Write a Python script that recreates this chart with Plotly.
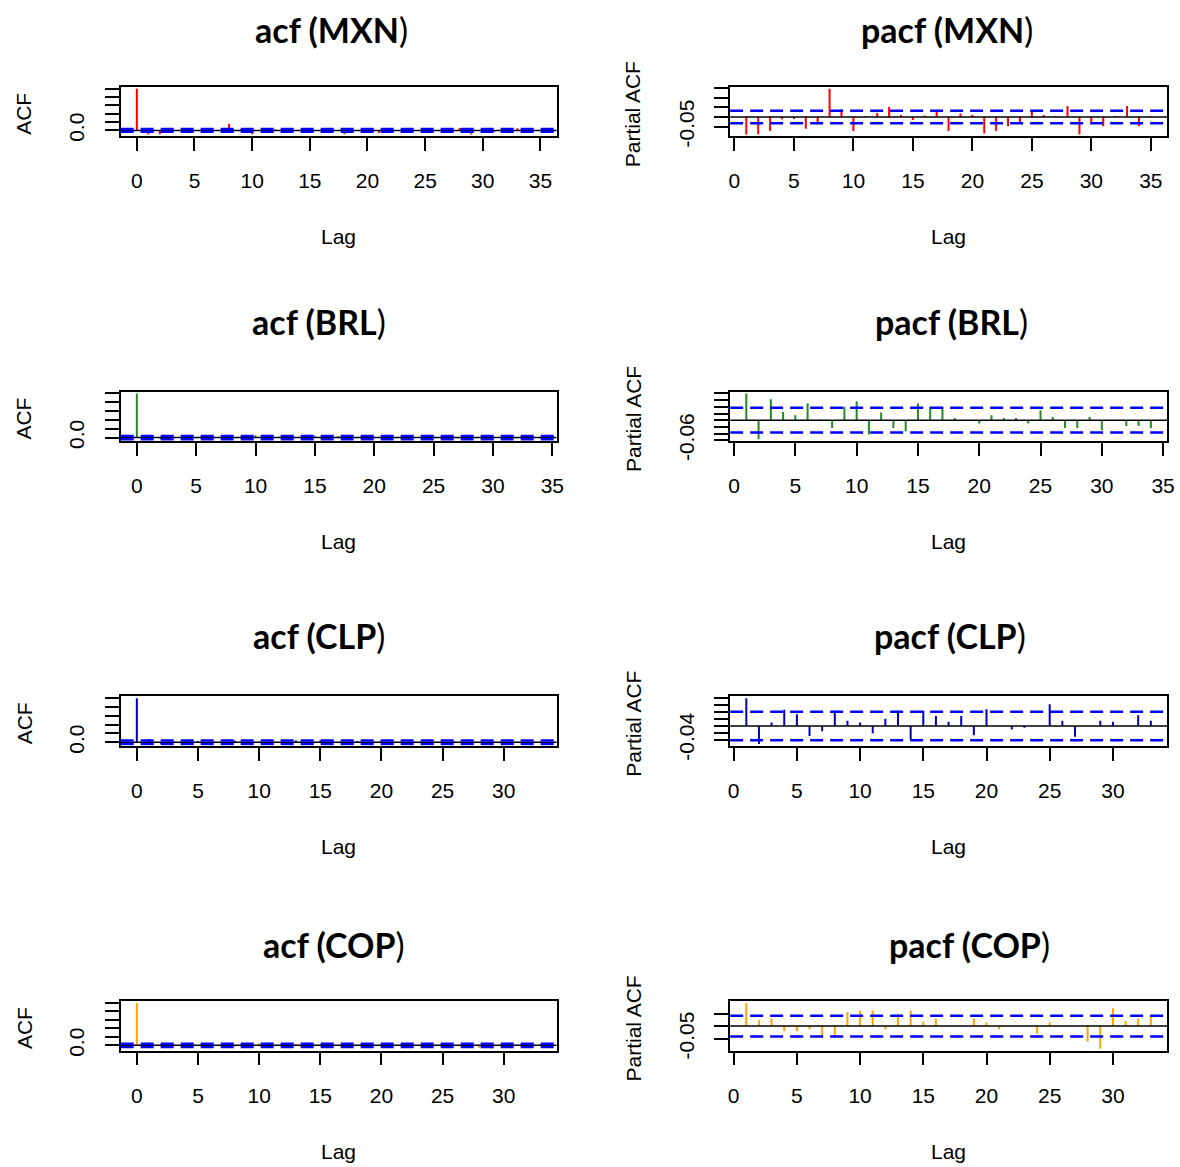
import plotly.graph_objects as go

# layout grid is expressed in a 1180 x 1167 pixel frame
REF_W, REF_H = 1180, 1167
FIG_W, FIG_H = 1187, 1186

# ---- data -------------------------------------------------------------
series = ["MXN", "BRL", "CLP", "COP"]
stem_colors = ["#FF0000", "#228B22", "#0000B4", "#FFA500"]

# sample autocorrelations, lags 0..L
acf_MXN = [1.0, -0.10, -0.09, -0.04, -0.01, 0.01, -0.03, 0.00, 0.16, 0.02,
           -0.09, 0.01, 0.02, 0.06, 0.01, -0.01, 0.01, 0.03, -0.09, 0.01,
           0.01, -0.06, -0.03, -0.02, -0.01, 0.05, 0.01, 0.00, 0.06, -0.10,
           -0.02, -0.03, 0.00, 0.05, -0.02, 0.00]
acf_BRL = [1.0, 0.06, -0.04, 0.05, 0.02, 0.01, 0.04, 0.00, -0.02, 0.03,
           0.05, -0.03, 0.02, -0.02, -0.03, 0.04, 0.04, 0.03, 0.01, 0.00,
           -0.01, 0.01, 0.01, 0.01, -0.01, 0.03, 0.01, -0.02, -0.02, 0.01,
           -0.03, 0.00, -0.02, -0.02, -0.02]
acf_CLP = [1.0, 0.07, -0.04, 0.01, 0.04, 0.03, -0.03, -0.01, 0.04, 0.01,
           0.01, -0.02, 0.02, 0.04, -0.04, 0.04, 0.03, 0.01, 0.03, -0.03,
           0.04, 0.00, -0.01, 0.00, 0.00, 0.06, 0.01, -0.03, 0.00, 0.01,
           0.01, 0.00, 0.03, 0.01]
acf_COP = [1.0, 0.08, 0.03, 0.03, -0.02, -0.02, -0.01, -0.04, -0.03, 0.04,
           0.05, 0.06, -0.01, 0.04, 0.06, 0.02, 0.03, 0.00, 0.00, 0.03,
           0.02, -0.01, 0.00, 0.00, -0.02, 0.01, 0.00, 0.00, -0.06, -0.08,
           0.06, 0.02, 0.03, 0.04]

# partial autocorrelations, lags 1..L
pacf_MXN = [-0.090, -0.088, -0.072, -0.012, -0.010, -0.060, -0.030, 0.145, 0.038, -0.072,
            0.005, 0.021, 0.052, 0.010, -0.015, 0.008, 0.031, -0.072, 0.018, 0.012,
            -0.084, -0.072, -0.048, -0.028, 0.026, 0.010, 0.005, 0.056, -0.090, -0.030,
            -0.047, 0.005, 0.056, -0.048, 0.003]
pacf_BRL = [0.080, -0.057, 0.063, 0.025, 0.015, 0.050, 0.002, -0.023, 0.040, 0.057,
            -0.043, 0.023, -0.023, -0.033, 0.050, 0.040, 0.040, 0.007, 0.001, -0.010,
            0.015, 0.007, 0.007, -0.010, 0.030, 0.010, -0.023, -0.023, 0.010, -0.030,
            0.001, -0.017, -0.017, -0.023]
pacf_CLP = [0.080, -0.052, 0.010, 0.047, 0.034, -0.029, -0.015, 0.044, 0.015, 0.010,
            -0.021, 0.021, 0.044, -0.039, 0.044, 0.029, 0.012, 0.029, -0.027, 0.048,
            0.001, -0.010, -0.005, 0.001, 0.063, 0.015, -0.031, 0.001, 0.015, 0.012,
            0.001, 0.031, 0.015]
pacf_COP = [0.092, 0.023, 0.030, -0.020, -0.020, -0.012, -0.046, -0.038, 0.056, 0.062,
            0.062, -0.012, 0.049, 0.062, 0.017, 0.030, 0.002, 0.001, 0.030, 0.014,
            -0.012, 0.001, 0.000, -0.029, 0.014, 0.001, 0.000, -0.061, -0.090, 0.071,
            0.020, 0.030, 0.040]

# white-noise confidence bounds (+/-)
conf_limits = [0.032, 0.037, 0.041, 0.041]

acf_values = [acf_MXN, acf_BRL, acf_CLP, acf_COP]
pacf_values = [pacf_MXN, pacf_BRL, pacf_CLP, pacf_COP]

lag_ticks = [[0, 5, 10, 15, 20, 25, 30, 35],
             [0, 5, 10, 15, 20, 25, 30, 35],
             [0, 5, 10, 15, 20, 25, 30],
             [0, 5, 10, 15, 20, 25, 30]]
acf_yticks = [0.0, 0.2, 0.4, 0.6, 0.8, 1.0]
acf_ylabels = ["0.0", "", "", "", "", ""]
pacf_yticks = [[-0.05, 0.0, 0.05, 0.10, 0.15],
               [-0.06, -0.04, -0.02, 0.0, 0.02, 0.04, 0.06, 0.08],
               [-0.04, -0.02, 0.0, 0.02, 0.04, 0.06, 0.08],
               [-0.05, 0.0, 0.05]]
pacf_ylabels = [["-0.05", "", "", "", ""],
                ["-0.06", "", "", "", "", "", "", ""],
                ["-0.04", "", "", "", "", "", ""],
                ["-0.05", "", ""]]

# ---- geometry (pixels in the 1180 x 1167 frame) ------------------------
col_x = [(119, 556), (730, 1168)]
row_top = [87, 392, 697, 1002]
box_h = 49.5
title_pos = [[(330, 30), (947, 30)],
             [(318, 322), (952, 322)],
             [(318, 636), (950, 636)],
             [(333, 945), (970, 945)]]

TICK_FONT = dict(family="Liberation Sans, Arial, sans-serif", size=21, color="#000")
TITLE_FONT = dict(family="Lato, sans-serif", size=34, color="#000")


def r_range(lo, hi):
    pad = 0.04 * (hi - lo)
    return [lo - pad, hi + pad]


def px_x(p):
    return p / REF_W


def px_y(p):
    return 1 - p / REF_H


fig = go.Figure()
shapes = []
annotations = []
layout_axes = {}

panel = 0
for r, name in enumerate(series):
    clim = conf_limits[r]
    for c in range(2):
        panel += 1
        xa = "x" if panel == 1 else f"x{panel}"
        ya = "y" if panel == 1 else f"y{panel}"
        if c == 0:
            vals = acf_values[r]
            lags = list(range(len(vals)))
            yticks, ylabels = acf_yticks, acf_ylabels
            ytitle = "ACF"
            ttl = f"<b>acf ({name}</b>)"
        else:
            vals = pacf_values[r]
            lags = list(range(1, len(vals) + 1))
            yticks, ylabels = pacf_yticks[r], pacf_ylabels[r]
            ytitle = "Partial ACF"
            ttl = f"<b>pacf ({name}</b>)"
        ylo = min(min(vals), -clim)
        yhi = max(max(vals), clim)

        # vertical stems from zero to each coefficient
        sx, sy = [], []
        for k, v in zip(lags, vals):
            sx += [k, k, None]
            sy += [0, v, None]
        fig.add_trace(go.Scatter(x=sx, y=sy, mode="lines", xaxis=xa, yaxis=ya,
                                 line=dict(color=stem_colors[r], width=2),
                                 hoverinfo="skip", showlegend=False))

        x0p, x1p = col_x[c]
        top = row_top[r]
        bot = top + box_h
        xr = r_range(lags[0], lags[-1])
        yr = r_range(ylo, yhi)

        common = dict(showgrid=False, zeroline=False, showline=True,
                      linecolor="#000", linewidth=1.8, mirror=True,
                      ticks="outside", tickcolor="#000", tickwidth=1.8,
                      tickfont=TICK_FONT)
        layout_axes["xaxis" if panel == 1 else f"xaxis{panel}"] = dict(
            domain=[px_x(x0p), px_x(x1p)], range=xr, anchor=ya,
            tickmode="array", tickvals=lag_ticks[r],
            ticktext=[str(t) for t in lag_ticks[r]],
            ticklen=13, ticklabelstandoff=12, **common)
        layout_axes["yaxis" if panel == 1 else f"yaxis{panel}"] = dict(
            domain=[px_y(bot), px_y(top)], range=yr, anchor=xa,
            tickmode="array", tickvals=yticks, ticktext=ylabels,
            tickangle=-90, ticklen=14, ticklabelstandoff=12, **common)

        # zero line and confidence bounds
        shapes.append(dict(type="line", xref=f"{xa} domain", yref=ya,
                           x0=0, x1=1, y0=0, y1=0,
                           line=dict(color="#000", width=1.5)))
        for lvl in (clim, -clim):
            shapes.append(dict(type="line", xref=f"{xa} domain", yref=ya,
                               x0=0, x1=1, y0=lvl, y1=lvl,
                               line=dict(color="#0000FF", width=2.5,
                                         dash="13px,7px")))

        # panel title and axis titles
        tx, ty = title_pos[r][c]
        annotations.append(dict(text=ttl, x=px_x(tx), y=px_y(ty),
                                xref="paper", yref="paper", showarrow=False,
                                xanchor="center", yanchor="middle",
                                font=TITLE_FONT))
        annotations.append(dict(text="Lag", x=px_x((x0p + x1p) / 2),
                                y=px_y(top + 150), xref="paper", yref="paper",
                                showarrow=False, xanchor="center",
                                yanchor="middle", font=TICK_FONT))
        annotations.append(dict(text=ytitle, x=px_x(x0p - 97),
                                y=px_y(top + 27), xref="paper", yref="paper",
                                showarrow=False, xanchor="center",
                                yanchor="middle", textangle=-90,
                                font=TICK_FONT))

fig.update_layout(width=FIG_W, height=FIG_H, margin=dict(l=0, r=0, t=0, b=0),
                  paper_bgcolor="white", plot_bgcolor="white",
                  showlegend=False, shapes=shapes, annotations=annotations,
                  **layout_axes)

# keep the page exactly the size of the figure (no body margin, no scrollbars)
page_css = ("document.body.style.margin='0';"
            "document.body.style.padding='0';"
            "document.body.style.overflow='hidden';")
fig.write_html("out.html", post_script=page_css)
